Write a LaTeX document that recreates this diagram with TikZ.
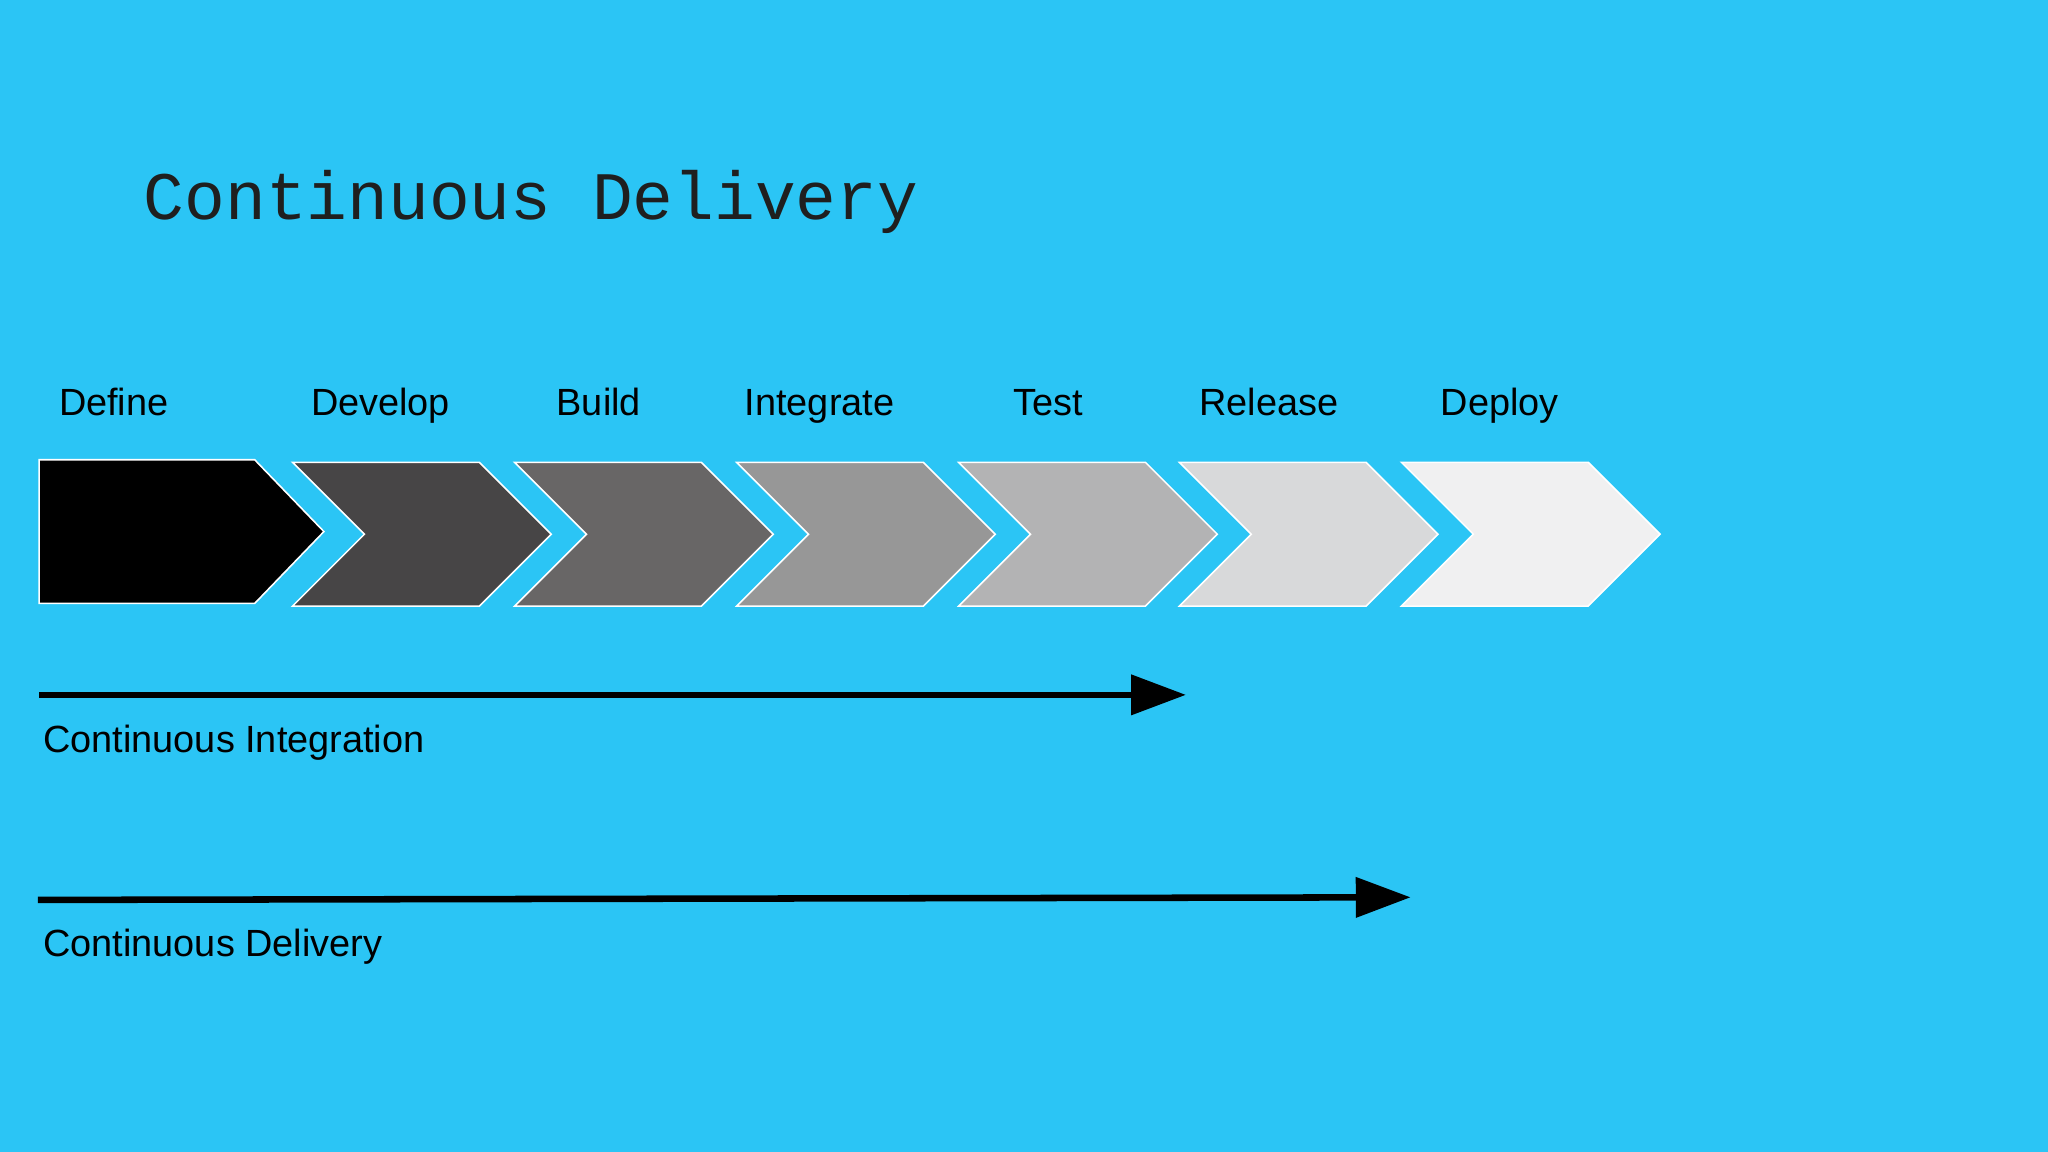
\documentclass[tikz,border=0pt]{standalone}
\usepackage{fontspec}
\setmainfont{Liberation Sans}
\newfontfamily\monof{Liberation Mono}
\usetikzlibrary{arrows.meta}
\definecolor{bg}{HTML}{2BC5F5}
\tikzset{
  lbl/.style={anchor=base west,inner sep=0pt,font=\fontsize{29}{34}\selectfont},
  chev/.style={draw=white,line width=1.2pt},
  flow/.style={line width=5pt,-{Triangle[length=42pt,width=30pt]}}
}
\begin{document}
\begin{tikzpicture}[x=1pt,y=-1pt]
\fill[bg] (0,0) rectangle (1568,882);
\useasboundingbox (0,0) rectangle (1568,882);
\node[anchor=base west,inner sep=0pt,font=\monof\fontsize{52}{60}\selectfont,text=black!88] (title) at (110,168) {Continuous Delivery};
% chevrons
\draw[chev,fill=black] (30,352) -- (195,352) -- (248,407) -- (195,462) -- (30,462) -- cycle;
\foreach \s/\c in {224/474546,394/686666,564/979797,734/B3B3B4,903/D8D9DA,1073/F0F0F1}{
  \definecolor{cc}{HTML}{\c}
  \draw[chev,fill=cc] (\s,354) -- ({\s+143},354) -- ({\s+198},409) -- ({\s+143},464) -- (\s,464) -- ({\s+55},409) -- cycle;
}
\node[lbl] (l1) at (45,318) {Define};
\node[lbl] (l2) at (238,318) {Develop};
\node[lbl] (l3) at (426,318) {Build};
\node[lbl] (l4) at (570,318) {Integrate};
\node[lbl] (l5) at (776,318) {Test};
\node[lbl] (l6) at (918,318) {Release};
\node[lbl] (l7) at (1103,318) {Deploy};
\coordinate (a1s) at (30,532);
\coordinate (a1e) at (908,532);
\coordinate (a2s) at (29,689);
\coordinate (a2e) at (1080,687);
\draw[flow] (a1s) -- (a1e);
\draw[flow] (a2s) -- (a2e);
\node[lbl] (ci) at (33,576) {Continuous Integration};
\node[lbl] (cd) at (33,732) {Continuous Delivery};
\end{tikzpicture}
\end{document}
